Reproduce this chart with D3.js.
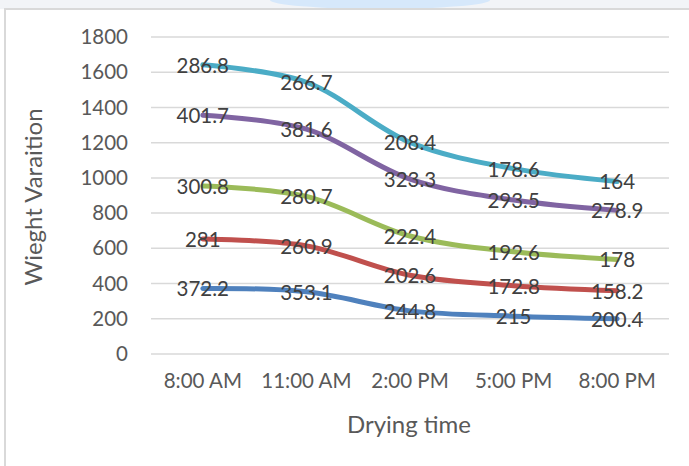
<!DOCTYPE html>
<html><head><meta charset="utf-8">
<script src="https://cdn.jsdelivr.net/npm/d3@7"></script>
<style>html,body{margin:0;padding:0;background:#fff;}svg{display:block;}</style>
</head><body>
<svg id="chart" width="689" height="466"></svg>
<script>
const categories = ["8:00 AM", "11:00 AM", "2:00 PM", "5:00 PM", "8:00 PM"];
const series1 = [372.2, 353.1, 244.8, 215, 200.4];
const series2 = [281, 260.9, 202.6, 172.8, 158.2];
const series3 = [300.8, 280.7, 222.4, 192.6, 178];
const series4 = [401.7, 381.6, 323.3, 293.5, 278.9];
const series5 = [286.8, 266.7, 208.4, 178.6, 164];
const yTicks = [0, 200, 400, 600, 800, 1000, 1200, 1400, 1600, 1800];
const colors = ["#4F81BD", "#C0504D", "#9BBB59", "#8064A2", "#4BACC6"];
const yTitle = "Wieght Varaition";
const xTitle = "Drying time";

const allSeries = [series1, series2, series3, series4, series5];
const svg = d3.select("#chart");
const font = "Lato, 'Open Sans', sans-serif";

// top strip background
svg.append("rect").attr("x",0).attr("y",0).attr("width",689).attr("height",9).attr("fill","#f2f4f7");
svg.append("ellipse").attr("cx",380).attr("cy",0).attr("rx",110).attr("ry",9).attr("fill","#d6e8fb");
// chart frame
svg.append("rect").attr("x",5).attr("y",9).attr("width",700).attr("height",470)
  .attr("fill","#fff").attr("stroke","#d9d9d9").attr("stroke-width",2);

const x = d3.scaleBand().domain(categories).range([151, 669]);
const y = d3.scaleLinear().domain([0, 1800]).range([354, 37]);

// gridlines
svg.append("g").selectAll("line").data(yTicks).join("line")
  .attr("x1",151).attr("x2",669)
  .attr("y1",d=>y(d)).attr("y2",d=>y(d))
  .attr("stroke","#d9d9d9").attr("stroke-width",1.5);

// y axis labels
const yAxis = d3.axisLeft(y).tickValues(yTicks).tickFormat(d3.format("d")).tickSize(0).tickPadding(0);
const gy = svg.append("g").attr("transform","translate(128,0)").call(yAxis);
gy.select(".domain").remove();
gy.selectAll("text").attr("font-family",font).attr("font-size",20.5).attr("fill","#595959");

// x axis labels
const xAxis = d3.axisBottom(x).tickSize(0).tickPadding(0);
const gx = svg.append("g").attr("transform","translate(0,373)").call(xAxis);
gx.select(".domain").remove();
gx.selectAll("text").attr("font-family",font).attr("font-size",20.5).attr("fill","#595959");

// titles
svg.append("text").attr("x",409).attr("y",433).attr("text-anchor","middle")
  .attr("font-family",font).attr("font-size",24).attr("fill","#595959").text(xTitle);
svg.append("text").attr("transform","translate(32,197) rotate(-90)").attr("text-anchor","middle")
  .attr("dominant-baseline","central")
  .attr("font-family",font).attr("font-size",24).attr("fill","#595959").text(yTitle);

// stacked cumulative values
const stacked = [];
allSeries.forEach((s,i)=>{
  stacked.push(s.map((v,j)=> v + (i>0 ? stacked[i-1][j] : 0)));
});

const line = d3.line()
  .x((d,j)=>x(categories[j]) + x.bandwidth()/2)
  .y(d=>y(d))
  .curve(d3.curveCatmullRom.alpha(0.5));

stacked.forEach((cum,i)=>{
  svg.append("path").datum(cum).attr("d",line)
    .attr("fill","none").attr("stroke",colors[i]).attr("stroke-width",5)
    .attr("stroke-linecap","round").attr("stroke-linejoin","round");
});

// labels
stacked.forEach((cum,i)=>{
  svg.append("g").selectAll("text").data(cum).join("text")
    .attr("x",(d,j)=>x(categories[j]) + x.bandwidth()/2)
    .attr("y",d=>y(d))
    .attr("text-anchor","middle").attr("dominant-baseline","central")
    .attr("font-family",font).attr("font-size",20.5).attr("fill","#404040")
    .text((d,j)=>allSeries[i][j]);
});
</script>
</body></html>
